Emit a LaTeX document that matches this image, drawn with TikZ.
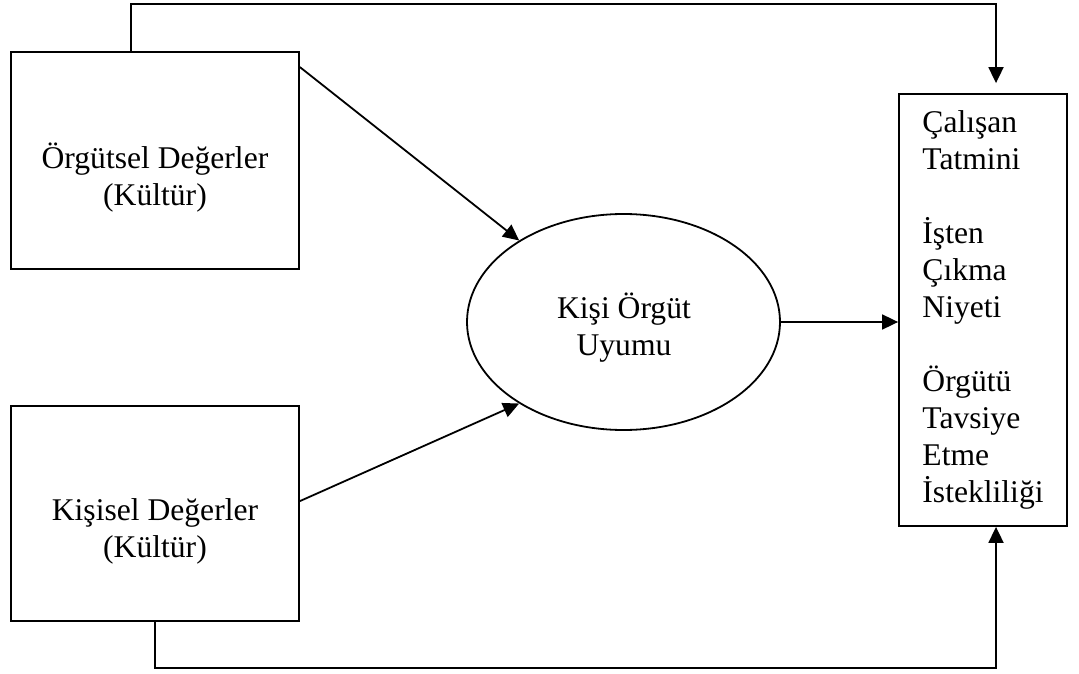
\documentclass[tikz,border=0pt]{standalone}
\usepackage{fontspec}
\setmainfont{Liberation Serif}
\usetikzlibrary{arrows.meta,shapes.geometric,calc}

\begin{document}
\begin{tikzpicture}[x=1pt,y=-1pt,
  line width=1.8pt,
  every node/.style={font=\fontsize{31.6pt}{37pt}\selectfont},
  valbox/.style={draw,rectangle,minimum width=288pt,inner sep=0pt},
  plain/.style={inner sep=0pt,align=center},
  arr/.style={-{Triangle[length=16pt,width=15pt]}}]
  \useasboundingbox (0,0) rectangle (1079,674);

  % value boxes on the left
  \node[valbox,minimum height=217pt] (tl) at (155,160.5) {};
  \node[plain] (tltext) at (155,178) {Örgütsel Değerler\\(Kültür)};
  \node[valbox,minimum height=215pt] (bl) at (155,513.5) {};
  \node[plain] (bltext) at (155,531) {Kişisel Değerler\\(Kültür)};

  % fit ellipse
  \node[draw,ellipse,minimum width=313pt,minimum height=216pt,inner sep=0pt]
    (ell) at (623.5,322) {};
  \node[plain] (elltext) at (624,328) {Kişi Örgüt\\Uyumu};

  % outcome box
  \node[draw,rectangle,minimum width=168pt,minimum height=432pt,inner sep=0pt,
        align=left] (out) at (983,310)
    {Çalışan\\Tatmini\\[37pt]İşten\\Çıkma\\Niyeti\\[37pt]Örgütü\\Tavsiye\\Etme\\İstekliliği};

  % connectors
  \draw[arr] ($(tl.north east)+(0,16)$) -- (ell.142);
  \draw[arr] ($(bl.north east)+(0,96)$) -- (ell.218);
  \draw[arr] (ell.east) -- (ell.east -| out.west);
  \draw[arr] ([xshift=-24pt]tl.north) -- ++(0,-47) -| ([xshift=13pt,yshift=10pt]out.north);
  \draw[arr] (bl.south) -- ++(0,46) -| ([xshift=13pt]out.south);
\end{tikzpicture}
\end{document}
